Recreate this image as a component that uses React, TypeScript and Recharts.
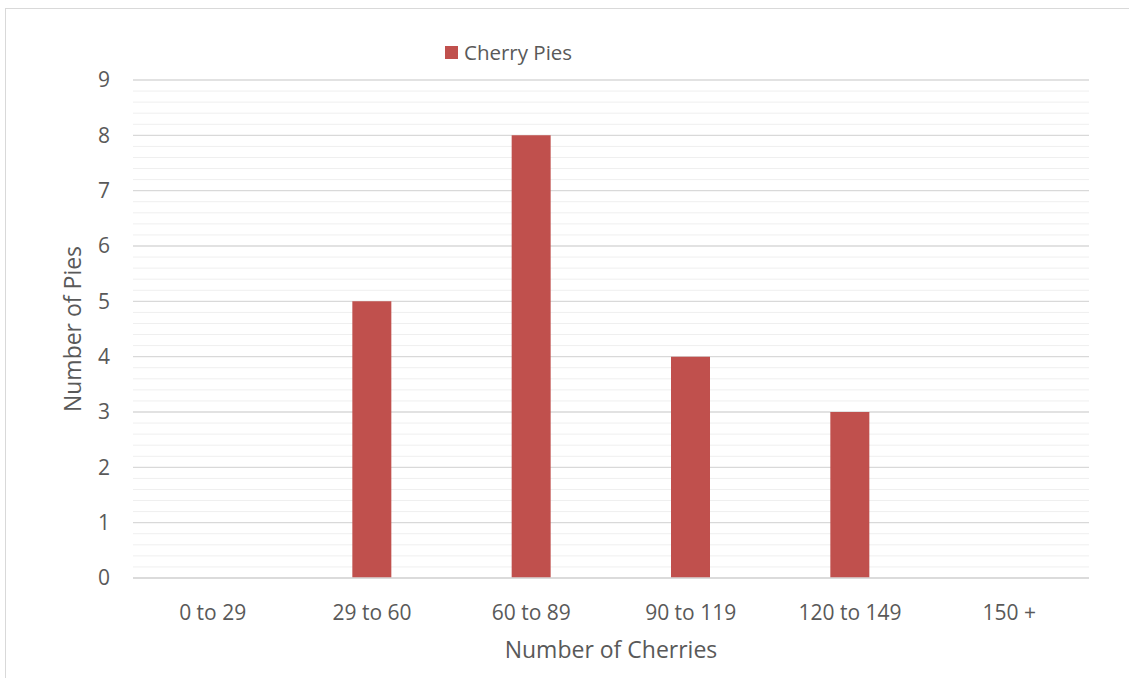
import { Bar, BarChart, CartesianGrid, ReferenceLine, XAxis, YAxis } from "recharts";

const categories = ["0 to 29", "29 to 60", "60 to 89", "90 to 119", "120 to 149", "150 +"];
const pies = [0, 5, 8, 4, 3, 0];
const majorTicks = [0, 1, 2, 3, 4, 5, 6, 7, 8, 9];
const minorTicks = Array.from({ length: 46 }, (_, i) => Math.round(i * 20) / 100).filter(
  (t) => !majorTicks.includes(t)
);

const data = categories.map((name, i) => ({ name, pies: pies[i] }));

const font = "'Open Sans', sans-serif";
const textColor = "#595959";

const App = () => {
  return (
    <div style={{ position: "absolute", left: 0, top: 0, width: 1129, height: 678, background: "#fff" }}>
      <div
        style={{
          position: "absolute",
          left: 5,
          top: 8,
          width: 1140,
          height: 690,
          border: "1px solid #d9d9d9",
        }}
      />
      <BarChart
        width={1129}
        height={678}
        data={data}
        margin={{ top: 80, right: 40, bottom: 0, left: 0 }}
        style={{ position: "absolute", left: 0, top: 0 }}
      >
        <CartesianGrid vertical={false} stroke="#d9d9d9" strokeWidth={1.3} />
        {minorTicks.map((t) => (
          <ReferenceLine key={t} y={t} stroke="#efefef" strokeWidth={1} zIndex={-50} />
        ))}
        <XAxis
          dataKey="name"
          axisLine={{ stroke: "#d9d9d9", strokeWidth: 1.3 }}
          tickLine={false}
          tickSize={0}
          tickMargin={27}
          height={100}
          tick={{ fill: textColor, fontSize: 21, fontFamily: font }}
          label={{
            value: "Number of Cherries",
            position: "insideBottom",
            offset: 20,
            fill: textColor,
            fontSize: 23,
            fontFamily: font,
          }}
        />
        <YAxis
          domain={[0, 9]}
          ticks={majorTicks}
          axisLine={false}
          tickLine={false}
          tickSize={0}
          tickMargin={23}
          width={133}
          tick={{ fill: textColor, fontSize: 21, fontFamily: font }}
          label={{
            value: "Number of Pies",
            angle: -90,
            position: "insideLeft",
            offset: 73,
            style: { textAnchor: "middle" },
            fill: textColor,
            fontSize: 23,
            fontFamily: font,
          }}
        />
        <Bar dataKey="pies" fill="#C0504D" barSize={39} isAnimationActive={false} />
      </BarChart>
      <div
        style={{
          position: "absolute",
          left: 445,
          top: 38,
          display: "flex",
          alignItems: "center",
          fontFamily: font,
          fontSize: 20.5,
          color: textColor,
          whiteSpace: "nowrap",
        }}
      >
        <span style={{ width: 13, height: 13, background: "#C0504D", marginRight: 6, display: "inline-block" }} />
        Cherry Pies
      </div>
    </div>
  );
};

export default App;
